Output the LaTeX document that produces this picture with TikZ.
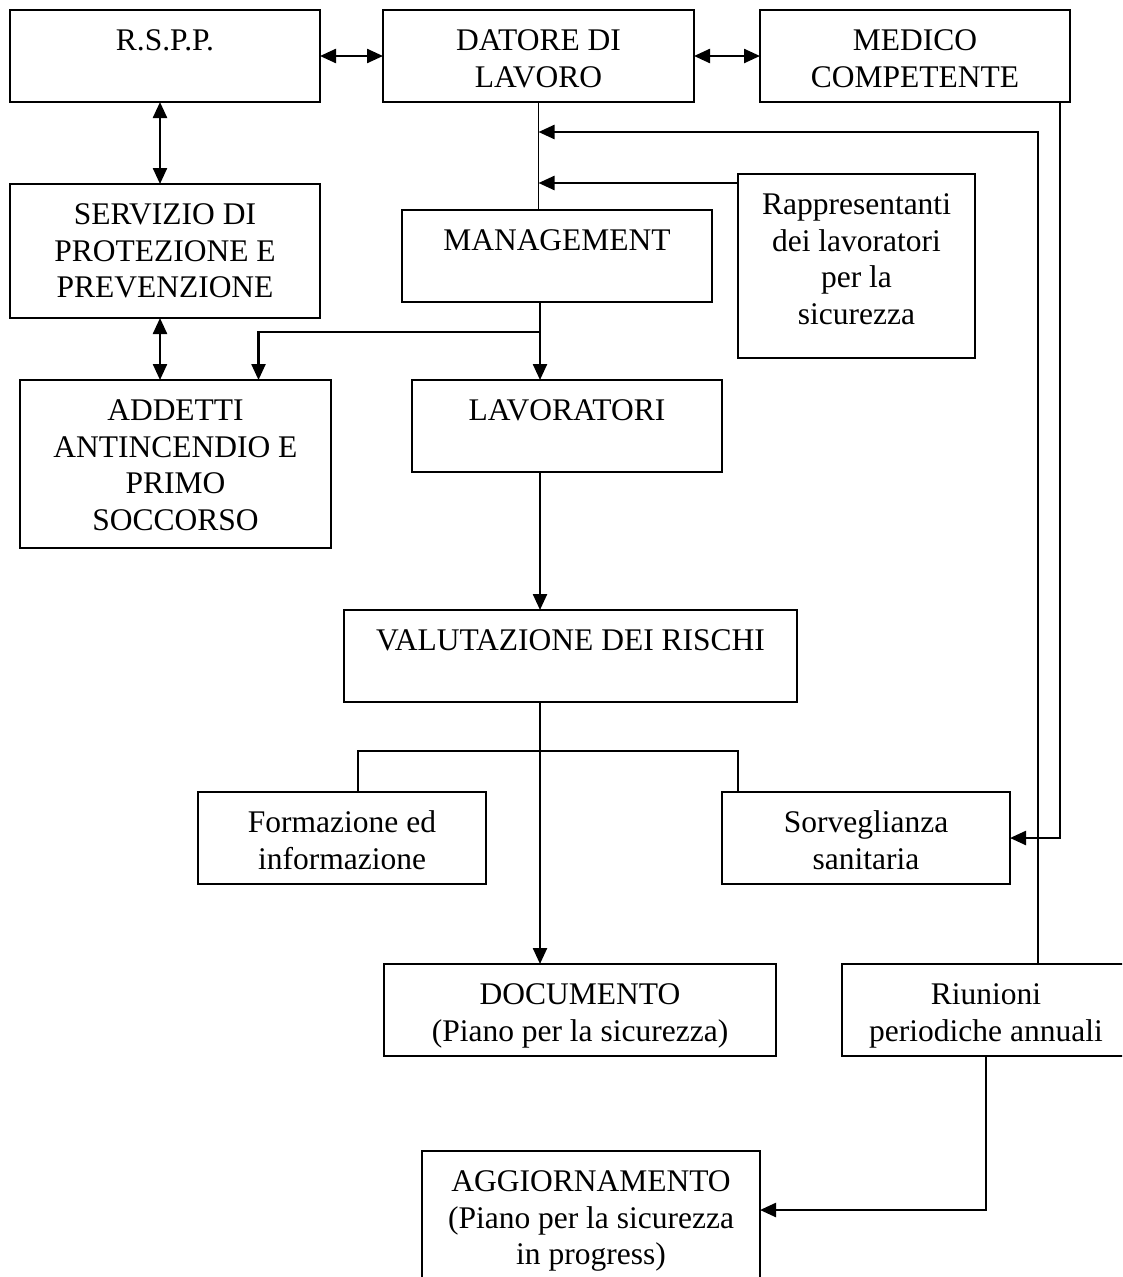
\documentclass[tikz,border=0pt]{standalone}
\usepackage{fontspec}
\setmainfont{Liberation Serif}
\usetikzlibrary{arrows.meta}
\newcommand\bxt[3]{\parbox[c][#2pt][t]{#1pt}{\centering\rule{0pt}{40.5pt}#3\par}}
\begin{document}
\begin{tikzpicture}[x=1pt,y=-1pt,
  box/.style={draw, line width=2pt, inner sep=0pt, outer sep=0pt, anchor=north west,
    font=\fontsize{31.5}{36.5}\selectfont},
  conn/.style={line width=1.8pt},
  arr/.style={line width=2.4pt, -{Triangle[length=16pt,width=14pt]}},
  dbl/.style={line width=2.4pt, {Triangle[length=16pt,width=14pt]}-{Triangle[length=16pt,width=14pt]}}]
\useasboundingbox (0,0) rectangle (1122,1277);
\clip (0,0) rectangle (1122,1277);
\node[box] (rspp) at (10,10) {\bxt{310}{92}{R.S.P.P.}};
\node[box] (datore) at (383,10) {\bxt{311}{92}{DATORE DI\\LAVORO}};
\node[box] (medico) at (760,10) {\bxt{310}{92}{MEDICO\\COMPETENTE}};
\node[box] (serv) at (10,184) {\bxt{310}{134}{SERVIZIO DI\\PROTEZIONE E\\PREVENZIONE}};
\node[box] (manag) at (402,210) {\bxt{310}{92}{MANAGEMENT}};
\node[box] (rapp) at (738,174) {\bxt{237}{184}{Rappresentanti\\dei lavoratori\\per la\\sicurezza}};
\node[box] (add) at (20,380) {\bxt{311}{168}{ADDETTI\\ANTINCENDIO E\\PRIMO\\SOCCORSO}};
\node[box] (lav) at (412,380) {\bxt{310}{92}{LAVORATORI}};
\node[box] (val) at (344,610) {\bxt{453}{92}{VALUTAZIONE DEI RISCHI}};
\node[box] (form) at (198,792) {\bxt{288}{92}{Formazione ed\\informazione}};
\node[box] (sorv) at (722,792) {\bxt{288}{92}{Sorveglianza\\sanitaria}};
\node[box] (doc) at (384,964) {\bxt{392}{92}{DOCUMENTO\\(Piano per la sicurezza)}};
\node[box] (riun) at (842,964) {\bxt{288}{92}{Riunioni\\periodiche annuali}};
\node[box] (agg) at (422,1151) {\bxt{338}{150}{AGGIORNAMENTO\\(Piano per la sicurezza\\in progress)}};
\coordinate (fb) at (538.5,132);
\coordinate (b1) at (540,332);
\coordinate (b2) at (540,750.7);
\draw[dbl] (rspp.east) -- (datore.west);
\draw[dbl] (datore.east) -- (medico.west);
\draw[dbl] ([xshift=-5pt]rspp.south) -- ([xshift=-5pt]serv.north);
\draw[dbl] ([xshift=-5pt]serv.south) -- ([xshift=-5pt]serv.south |- add.north);
\draw[conn] (datore.south) -- (datore.south |- manag.north);
\draw[arr] ([xshift=52pt]riun.north) |- (fb);
\draw[arr] ([yshift=-9pt]rapp.north west) -- ([yshift=-9pt]rapp.north west -| datore.south);
\draw[arr] ([xshift=-10pt]medico.south east) |- (sorv.east);
\draw[arr] ([xshift=-17pt]manag.south) -- ([xshift=-17pt]manag.south |- lav.north);
\draw[arr] (b1) -| ([xshift=83pt]add.north);
\draw[arr] ([xshift=-27pt]lav.south) -- ([xshift=-27pt]lav.south |- val.north);
\draw[arr] ([xshift=-30.5pt]val.south) -- ([xshift=-30.5pt]val.south |- doc.north);
\draw[conn] ([xshift=16pt]form.north) |- (b2) -| ([xshift=-128pt]sorv.north);
\draw[arr] (riun.south) |- ([yshift=-59pt]agg.north east);
\end{tikzpicture}
\end{document}
